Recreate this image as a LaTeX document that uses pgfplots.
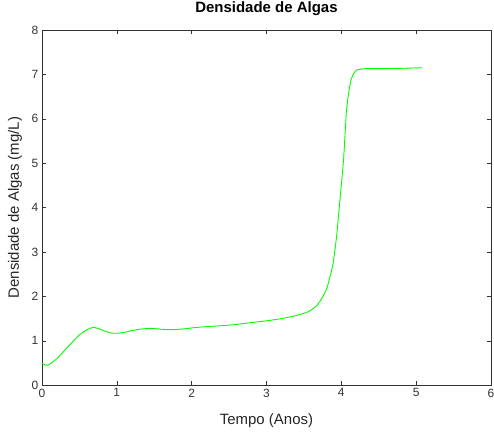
\documentclass[border=0pt]{standalone}
\usepackage{fontspec}
\setmainfont{Liberation Sans}
\usepackage{pgfplots}
\pgfplotsset{compat=1.18}

\begin{document}
\begin{tikzpicture}
\begin{axis}[
  scale only axis,
  width=450pt, height=356pt,
  xmin=0, xmax=6, ymin=0, ymax=8,
  xtick={0,...,6}, ytick={0,...,8},
  /pgf/number format/assume math mode=true,
  tick label style={font=\fontsize{12}{14}\selectfont, text=black!80},
  label style={font=\fontsize{15}{17}\selectfont, text=black!85},
  xlabel style={at={(axis description cs:0.5,-0.101)}, anchor=center},
  ylabel style={at={(axis description cs:-0.06,0.5)}, anchor=center},
  title style={font=\bfseries\fontsize{15}{17}\selectfont,
    at={(axis description cs:0.5,1.042)}, anchor=center},
  title={Densidade de Algas},
  xlabel={Tempo (Anos)},
  ylabel={Densidade de Algas (mg/L)},
  axis line style={black!80},
  major tick length=4pt,
  every tick/.style={black!80},
]
\addplot[color={rgb,1:red,0;green,1;blue,0}, line width=0.9pt, smooth, tension=0.4] coordinates {
(0,0.50) (0.05,0.45) (0.1,0.47) (0.2,0.60) (0.3,0.78) (0.4,0.96)
(0.5,1.13) (0.6,1.25) (0.68,1.30) (0.75,1.28) (0.85,1.21) (0.95,1.17)
(1.0,1.17) (1.1,1.19) (1.2,1.23) (1.3,1.26) (1.45,1.28) (1.6,1.26)
(1.75,1.25) (1.9,1.27) (2.0,1.29) (2.2,1.32) (2.4,1.34) (2.6,1.37)
(2.8,1.41) (3.0,1.45) (3.2,1.50) (3.4,1.57) (3.55,1.65) (3.62,1.72)
(3.67,1.79) (3.72,1.90) (3.77,2.05) (3.81,2.20) (3.85,2.45) (3.88,2.65)
(3.90,2.85) (3.94,3.40) (3.97,3.96) (4.00,4.50) (4.03,5.08) (4.05,5.65)
(4.07,6.20) (4.10,6.60) (4.13,6.88) (4.17,7.03) (4.21,7.10) (4.27,7.12)
(4.35,7.13) (4.6,7.13) (4.9,7.14) (5.08,7.15)
};
\end{axis}
\pgfresetboundingbox
\path[use as bounding box] ([shift={(-42pt,-47pt)}]current axis.south west)
  rectangle ([shift={(3pt,30pt)}]current axis.north east);
\end{tikzpicture}
\end{document}
